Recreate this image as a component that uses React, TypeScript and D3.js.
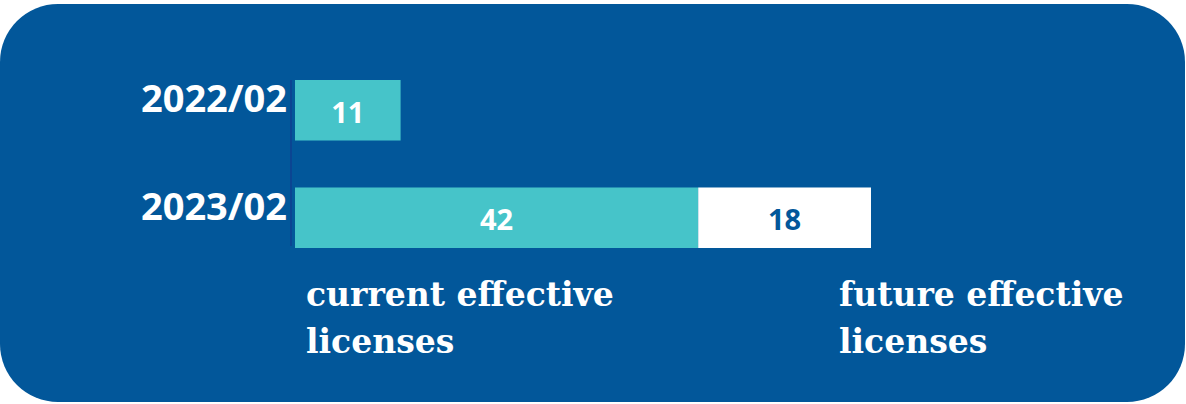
import React from "react";
import * as d3 from "d3";

const categories = ["2022/02", "2023/02"];
const currentValues = [11, 42];
const futureValues = [0, 18];
const legendLabels = [["current effective", "licenses"], ["future effective", "licenses"]];

const W = 1186;
const H = 404;
const BG = "#02579a";
const TEAL = "#46c4c9";

export default function App() {
  const x = d3.scaleLinear().domain([0, 60]).range([295, 871]);
  const y = d3.scaleBand().domain(categories).range([80, 248]).paddingInner(0.437).paddingOuter(0);
  const bw = y.bandwidth();
  const sans = "'Open Sans', 'Noto Sans', sans-serif";
  const slab = "'DejaVu Serif', serif";
  return (
    <svg width={W} height={H} style={{ position: "absolute", left: 0, top: 0 }}>
      <rect x={0} y={4} width={1185} height={398} rx={58} ry={58} fill={BG} />
      <line x1={291} x2={291} y1={80} y2={246} stroke="#0b4592" strokeWidth={2} />
      {categories.map((c, i) => {
        const y0 = y(c) as number;
        const cv = currentValues[i];
        const fv = futureValues[i];
        return (
          <g key={c}>
            <text x={287} y={y0 + bw / 2 - 13} textAnchor="end" dominantBaseline="central"
              fill="#fff" fontFamily={sans} fontWeight={700} fontSize={38}>{c}</text>
            <rect x={x(0)} y={y0} width={x(cv) - x(0)} height={bw} fill={TEAL} />
            <text x={(x(0) + x(cv)) / 2} y={y0 + bw / 2 + 1} textAnchor="middle" dominantBaseline="central"
              fill="#fff" fontFamily={sans} fontWeight={700} fontSize={29}>{cv}</text>
            {fv > 0 && (
              <>
                <rect x={x(cv)} y={y0} width={x(cv + fv) - x(cv)} height={bw} fill="#fff" />
                <text x={(x(cv) + x(cv + fv)) / 2} y={y0 + bw / 2 + 1} textAnchor="middle" dominantBaseline="central"
                  fill={BG} fontFamily={sans} fontWeight={700} fontSize={29}>{fv}</text>
              </>
            )}
          </g>
        );
      })}
      {legendLabels.map((lines, i) => (
        <text key={i} x={i === 0 ? 306 : 839} fill="#fff" fontFamily={slab} fontWeight={700} fontSize={33}>
          {lines.map((l, j) => (
            <tspan key={j} x={i === 0 ? 306 : 839} y={306 + j * 47}>{l}</tspan>
          ))}
        </text>
      ))}
    </svg>
  );
}
